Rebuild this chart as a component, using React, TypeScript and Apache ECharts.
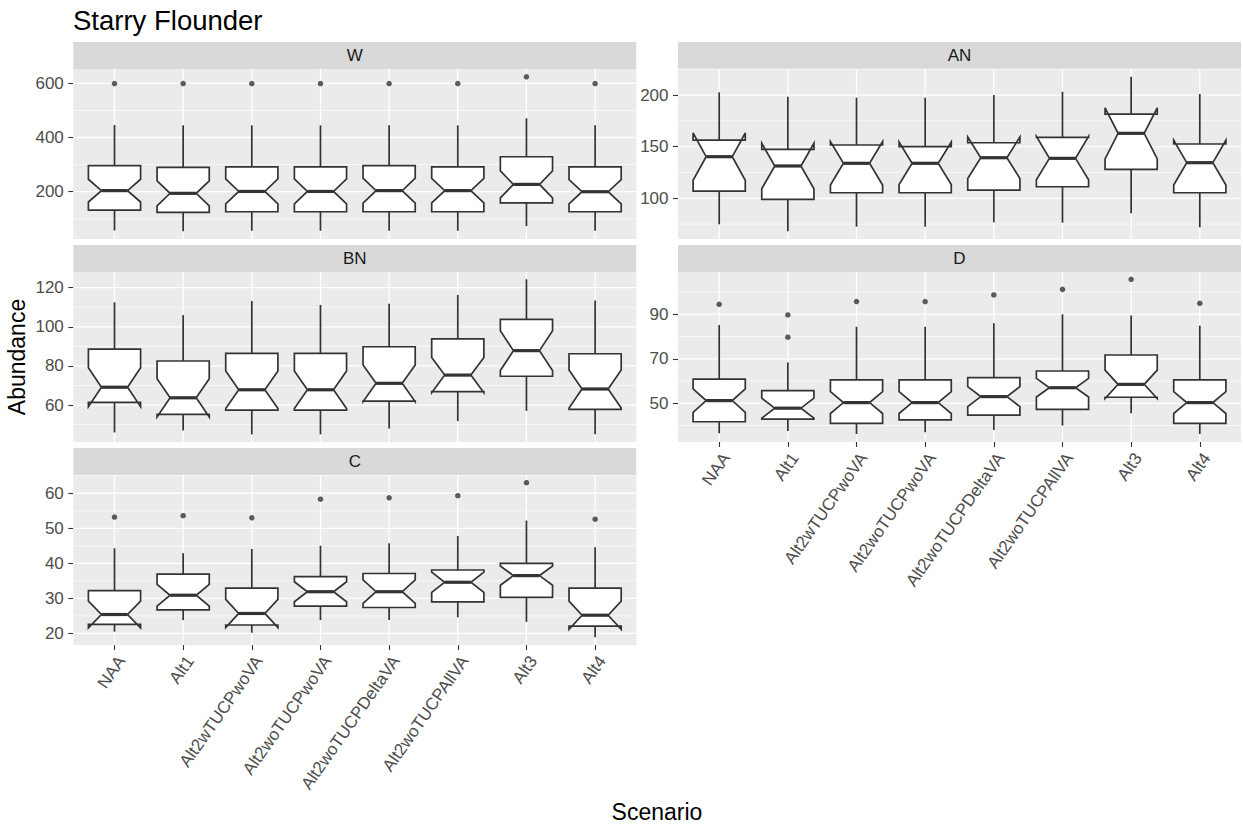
import React, { useEffect, useRef } from 'react';
import * as echarts from 'echarts';

const CATEGORIES = ['NAA', 'Alt1', 'Alt2wTUCPwoVA', 'Alt2woTUCPwoVA', 'Alt2woTUCPDeltaVA', 'Alt2woTUCPAllVA', 'Alt3', 'Alt4'];

// each row: [lowerWhisker, Q1, notchLow, median, notchHigh, Q3, upperWhisker]
const W_STATS = [
  [57, 132, 162, 204, 246, 296, 446],
  [54, 124, 148, 194, 240, 290, 445],
  [56, 126, 155, 201, 247, 292, 445],
  [56, 126, 155, 201, 247, 292, 445],
  [56, 126, 158, 204, 250, 296, 445],
  [56, 126, 159, 204, 249, 292, 445],
  [73, 159, 177, 227, 277, 329, 471],
  [56, 126, 155, 200, 245, 292, 445],
];
const W_OUTLIERS = [[0, 599], [1, 599], [2, 599], [3, 599], [4, 599], [5, 599], [6, 624], [7, 599]];

const AN_STATS = [
  [74.8, 107, 117.4, 140.3, 163.2, 156.4, 202.6],
  [68, 99, 109.3, 131.3, 153.3, 147.4, 198.4],
  [72.5, 105.4, 112.9, 133.9, 154.9, 151.6, 197.4],
  [72.5, 105.4, 113.4, 133.9, 154.4, 150, 197.4],
  [76.8, 108, 119.2, 139.3, 159.4, 153.8, 200],
  [76.4, 111.2, 118, 138.7, 160, 159, 203.2],
  [85.5, 128.1, 138.2, 162.9, 187.6, 181.6, 217.7],
  [71.9, 105.4, 112.8, 134.5, 156.2, 152.6, 201],
];
const AN_OUTLIERS: number[][] = [];

const BN_STATS = [
  [46, 61.4, 59.1, 69.1, 79.1, 88.6, 112.5],
  [47, 55.2, 53.9, 63.7, 73.5, 82.5, 106],
  [45, 57.4, 58.2, 67.8, 77.4, 86.4, 113.2],
  [45, 57.4, 58.2, 67.8, 77.4, 86.4, 111.2],
  [48, 62, 61.7, 71.1, 80.5, 89.8, 111.8],
  [51.8, 66.8, 66.3, 75.3, 84.3, 93.8, 116.3],
  [57, 74.7, 77.6, 87.8, 98, 103.8, 124.3],
  [45, 57.8, 58.5, 68.2, 77.9, 86.2, 113.4],
];
const BN_OUTLIERS: number[][] = [];

const D_STATS = [
  [36.5, 41.7, 45.9, 51.2, 56.5, 60.9, 85.2],
  [37.5, 42.9, 43.3, 47.8, 52.3, 55.7, 68.3],
  [36.2, 41, 45.4, 50.3, 55.2, 60.5, 84.4],
  [37, 42.5, 45.4, 50.3, 55.2, 60.5, 84.4],
  [38, 44.7, 48.5, 53, 57.5, 61.5, 86],
  [40, 47.3, 52.8, 57, 61.2, 64.5, 90],
  [45.5, 52.7, 52.1, 58.5, 64.9, 71.7, 89.4],
  [36.2, 41, 45.4, 50.3, 55.2, 60.5, 84.9],
];
const D_OUTLIERS = [[0, 94.5], [1, 89.7], [1, 79.7], [2, 95.7], [3, 95.7], [4, 98.7], [5, 101.2], [6, 105.7], [7, 94.9]];

const C_STATS = [
  [20.5, 22.6, 21.6, 25.4, 29.2, 32.2, 44.3],
  [23.8, 26.7, 27.8, 30.9, 34, 36.9, 42.9],
  [20.2, 22.4, 21.7, 25.7, 29.7, 32.9, 44.1],
  [23.8, 27.8, 29.05, 31.9, 34.75, 36.2, 45],
  [23.8, 27.4, 28.55, 31.9, 35.25, 37.1, 45.7],
  [24.6, 29, 31.7, 34.6, 37.5, 38.1, 47.8],
  [23.3, 30.3, 33.75, 36.5, 39.25, 40, 52.2],
  [18.9, 22.1, 21.2, 25.2, 29.2, 32.9, 44.6],
];
const C_OUTLIERS = [[0, 53.2], [1, 53.6], [2, 53], [3, 58.3], [4, 58.7], [5, 59.3], [6, 63], [7, 52.6]];

const W_RANGE = [25.5, 652.8];
const AN_RANGE = [60.6, 225.2];
const BN_RANGE = [41.1, 128];
const D_RANGE = [32.6, 109];
const C_RANGE = [16.7, 65.2];

const W_MAJOR = [200, 400, 600];
const W_MINOR = [100, 300, 500];
const AN_MAJOR = [100, 150, 200];
const AN_MINOR = [75, 125, 175, 225];
const BN_MAJOR = [60, 80, 100, 120];
const BN_MINOR = [50, 70, 90, 110];
const D_MAJOR = [50, 70, 90];
const D_MINOR = [40, 60, 80, 100];
const C_MAJOR = [20, 30, 40, 50, 60];
const C_MINOR = [25, 35, 45, 55, 65];

const TITLE = 'Starry Flounder';
const Y_TITLE = 'Abundance';
const X_TITLE = 'Scenario';

const FONT = '"Liberation Sans", Arial, Helvetica, sans-serif';
const INK = '#333333';

const PANEL_W = 563;
const PANEL_H = 170;
const STRIP_H = 27;
const COL_X = [73.3, 678];
const ROW_Y = [69, 272, 475];

const PANELS = [
  { name: 'W', stats: W_STATS, outliers: W_OUTLIERS, range: W_RANGE, major: W_MAJOR, minor: W_MINOR, col: 0, row: 0, showX: false },
  { name: 'AN', stats: AN_STATS, outliers: AN_OUTLIERS, range: AN_RANGE, major: AN_MAJOR, minor: AN_MINOR, col: 1, row: 0, showX: false },
  { name: 'BN', stats: BN_STATS, outliers: BN_OUTLIERS, range: BN_RANGE, major: BN_MAJOR, minor: BN_MINOR, col: 0, row: 1, showX: false },
  { name: 'D', stats: D_STATS, outliers: D_OUTLIERS, range: D_RANGE, major: D_MAJOR, minor: D_MINOR, col: 1, row: 1, showX: true },
  { name: 'C', stats: C_STATS, outliers: C_OUTLIERS, range: C_RANGE, major: C_MAJOR, minor: C_MINOR, col: 0, row: 2, showX: true },
];

function buildOption() {
  const grid: any[] = [];
  const xAxis: any[] = [];
  const yAxis: any[] = [];
  const series: any[] = [];
  const graphic: any[] = [];

  PANELS.forEach((p, idx) => {
    const L = COL_X[p.col];
    const T = ROW_Y[p.row];
    const u = PANEL_W / 8.2;
    const pad = 0.1 * u;

    graphic.push({
      type: 'rect', z: 0, silent: true,
      shape: { x: L, y: T, width: PANEL_W, height: PANEL_H },
      style: { fill: '#EBEBEB' },
    });
    graphic.push({
      type: 'rect', z: 0, silent: true,
      shape: { x: L, y: T - STRIP_H, width: PANEL_W, height: STRIP_H },
      style: { fill: '#D9D9D9' },
    });
    graphic.push({
      type: 'text', z: 1, silent: true,
      x: L + PANEL_W / 2, y: T - STRIP_H / 2,
      style: { text: p.name, fill: '#1A1A1A', font: `17px ${FONT}`, textAlign: 'center', textVerticalAlign: 'middle' },
    });

    grid.push({ left: L + pad, top: T, width: 8 * u, height: PANEL_H, containLabel: false });

    xAxis.push({
      type: 'category', gridIndex: idx, data: CATEGORIES, boundaryGap: true,
      axisLine: { show: false },
      axisTick: { show: p.showX, alignWithLabel: true, length: 5, lineStyle: { color: INK, width: 1.1 } },
      axisLabel: {
        show: p.showX, interval: 0, rotate: 55, fontSize: 17, color: '#4D4D4D', fontFamily: FONT,
        margin: 8, align: 'right', verticalAlign: 'top',
      },
      splitLine: { show: false },
    });

    yAxis.push({
      type: 'value', gridIndex: idx, min: p.range[0], max: p.range[1], offset: pad,
      axisLine: { show: false },
      axisTick: { show: true, length: 5, lineStyle: { color: INK, width: 1.1 }, customValues: p.major },
      axisLabel: { customValues: p.major, fontSize: 17, color: '#4D4D4D', fontFamily: FONT, margin: 9.5 },
      splitLine: { show: false },
    });

    const gridData: number[][] = [
      ...p.minor.map((v) => [0, v, 1]),
      ...p.major.map((v) => [0, v, 0]),
      ...CATEGORIES.map((_, i) => [i, p.range[0], 2]),
    ];

    series.push({
      type: 'custom', xAxisIndex: idx, yAxisIndex: idx, z: 1, silent: true, clip: false,
      encode: { x: 0, y: 1 },
      data: gridData,
      renderItem: (params: any, api: any) => {
        const kind = api.value(2);
        if (kind === 2) {
          const x = api.coord([api.value(0), p.range[0]])[0];
          return { type: 'line', shape: { x1: x, y1: T, x2: x, y2: T + PANEL_H }, style: { stroke: '#FFFFFF', lineWidth: 1.3 } };
        }
        const y = api.coord([0, api.value(1)])[1];
        return {
          type: 'line', shape: { x1: L, y1: y, x2: L + PANEL_W, y2: y },
          style: { stroke: '#FFFFFF', lineWidth: kind === 0 ? 1.3 : 0.65 },
        };
      },
    });

    series.push({
      type: 'custom', xAxisIndex: idx, yAxisIndex: idx, z: 3, clip: false,
      encode: { x: 0, y: [1, 2, 3, 4, 5, 6, 7] },
      data: p.stats.map((s, i) => [i, ...s]),
      renderItem: (params: any, api: any) => {
        const i = api.value(0);
        const low = api.value(1), q1 = api.value(2), nl = api.value(3), med = api.value(4), nu = api.value(5), q3 = api.value(6), high = api.value(7);
        const cx = api.coord([i, med])[0];
        const band = api.size([1, 0])[0];
        const hw = band * 0.38;
        const nw = hw * 0.5;
        const Y = (v: number) => api.coord([i, v])[1];
        const st = { stroke: INK, lineWidth: 1.7, fill: 'none' };
        return {
          type: 'group',
          children: [
            { type: 'line', shape: { x1: cx, y1: Y(q3), x2: cx, y2: Y(high) }, style: st },
            { type: 'line', shape: { x1: cx, y1: Y(q1), x2: cx, y2: Y(low) }, style: st },
            {
              type: 'polygon',
              shape: {
                points: [
                  [cx - hw, Y(q1)], [cx - hw, Y(nl)], [cx - nw, Y(med)], [cx - hw, Y(nu)], [cx - hw, Y(q3)],
                  [cx + hw, Y(q3)], [cx + hw, Y(nu)], [cx + nw, Y(med)], [cx + hw, Y(nl)], [cx + hw, Y(q1)],
                ],
              },
              style: { stroke: INK, lineWidth: 1.7, fill: '#FFFFFF', lineJoin: 'miter' },
            },
            { type: 'line', shape: { x1: cx - nw, y1: Y(med), x2: cx + nw, y2: Y(med) }, style: { stroke: INK, lineWidth: 3.2 } },
          ],
        };
      },
    });

    series.push({
      type: 'scatter', xAxisIndex: idx, yAxisIndex: idx, z: 4, silent: true,
      symbol: 'circle', symbolSize: 5.5,
      itemStyle: { color: INK },
      data: p.outliers,
    });
  });

  graphic.push({
    type: 'text', silent: true, x: 17, y: 357, rotation: Math.PI / 2,
    style: { text: Y_TITLE, fill: '#000000', font: `23px ${FONT}`, textAlign: 'center', textVerticalAlign: 'middle' },
  });
  graphic.push({
    type: 'text', silent: true, x: 657, y: 812,
    style: { text: X_TITLE, fill: '#000000', font: `23px ${FONT}`, textAlign: 'center', textVerticalAlign: 'middle' },
  });

  return {
    animation: false,
    backgroundColor: '#FFFFFF',
    title: {
      text: TITLE, left: 73, top: 6, padding: 0,
      textStyle: { fontSize: 27.5, fontWeight: 'normal', color: '#000000', fontFamily: FONT },
    },
    grid, xAxis, yAxis, series, graphic,
  };
}

export default function App() {
  const ref = useRef<HTMLDivElement>(null);
  useEffect(() => {
    if (!ref.current) return;
    const chart = echarts.init(ref.current, undefined, { renderer: 'svg' });
    chart.setOption(buildOption() as any);
    return () => chart.dispose();
  }, []);
  return <div ref={ref} style={{ position: 'absolute', left: 0, top: 0, width: 1243, height: 828, background: '#fff' }} />;
}
